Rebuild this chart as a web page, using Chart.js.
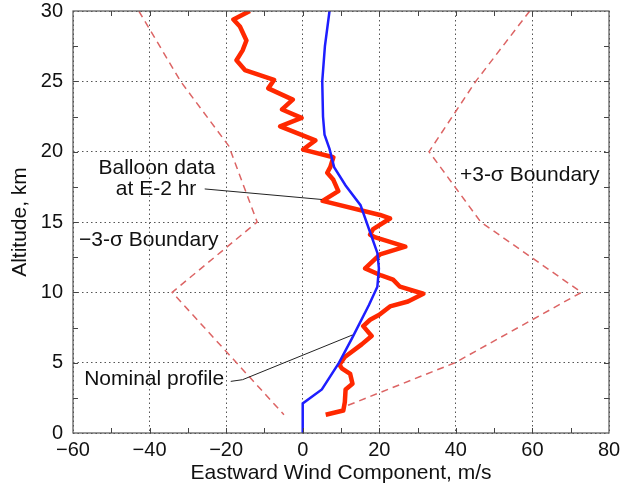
<!DOCTYPE html>
<html>
<head>
<meta charset="utf-8">
<script src="https://cdn.jsdelivr.net/npm/chart.js@4"></script>
<style>
  html, body { margin: 0; padding: 0; background: #fff; }
  #wrap { width: 621px; height: 486px; }
</style>
</head>
<body>
<div id="wrap"><canvas id="myChart" width="621" height="486"></canvas></div>
<script>
  // balloon data at E-2 hr (eastward wind m/s vs altitude km)
  const balloonWind = [6.0, 10.6, 11.0, 11.2, 13.0, 12.4, 10.2, 9.6, 11.0, 15.4, 18.0, 15.8, 17.6, 20.0, 22.8,
    27.5, 31.5, 25.4, 23.6, 20.5, 16.3, 20.2, 26.8, 19.0, 17.6, 18.4, 22.8, 20.2, 5.2, 9.3, 8.0, 6.4, 7.2,
    8.0, 0.1, 3.3, -5.9, -0.3, -5.4, -2.6, -9.0, -7.5, -15.1, -17.3, -15.7, -14.7, -16.4, -18.1, -13.8];
  const balloonAlt = [1.3, 1.6, 2.2, 3.1, 3.5, 4.2, 4.6, 4.85, 5.4, 6.3, 6.9, 7.6, 8.05, 8.4, 9.0,
    9.35, 9.9, 10.4, 10.9, 11.2, 11.7, 12.7, 13.25, 13.9, 14.1, 14.5, 15.25, 15.5, 16.5, 17.2, 18.0, 18.5, 18.9,
    19.6, 20.15, 20.8, 21.8, 22.4, 23.0, 23.7, 24.5, 25.1, 25.8, 26.5, 27.2, 27.9, 28.9, 29.4, 30.0];

  // nominal profile
  const nominalWind = [0, 0, 5.0, 9.5, 12.9, 17.3, 19.5, 19.9, 19.5, 17.3, 15.1, 11.2, 8.2, 7.0, 5.7, 5.3, 5.1, 5.8, 7.0];
  const nominalAlt  = [0, 2.1, 3.1, 5.0, 6.75, 9.1, 10.4, 11.7, 12.8, 14.5, 16.2, 17.6, 18.9, 20.2, 21.2, 22.5, 25.0, 27.5, 30.0];

  // 3-sigma boundaries
  const minusWind = [-42.8, -31.9, -19.3, -11.9, -34.1, -4.9];
  const minusAlt  = [30, 25, 20.4, 15, 10, 1.3];
  const plusWind  = [59.3, 45.2, 33.0, 46.5, 72.8, 39.8, 11.2];
  const plusAlt   = [30, 25, 20, 15, 10, 5, 1.9];

  const xTicks = [-60, -40, -20, 0, 20, 40, 60, 80];
  const yTicks = [0, 5, 10, 15, 20, 25, 30];

  function pts(xs, ys) {
    return xs.map(function(v, i) { return {x: v, y: ys[i]}; });
  }

  const FONT = '"Liberation Sans", Arial, Helvetica, sans-serif';

  // frame, inward ticks (major + minor) and callout labels
  const extras = {
    id: 'extras',
    afterDraw: function(chart) {
      const c = chart.ctx;
      const a = chart.chartArea;
      const sx = chart.scales.x, sy = chart.scales.y;
      c.save();
      c.strokeStyle = '#555';
      c.lineWidth = 1.2;
      c.strokeRect(a.left, a.top, a.right - a.left, a.bottom - a.top);

      c.lineWidth = 1;
      c.strokeStyle = '#444';
      c.beginPath();
      for (let v = -50; v < 80; v += 10) {
        const px = Math.round(sx.getPixelForValue(v)) + 0.5;
        c.moveTo(px, a.bottom); c.lineTo(px, a.bottom - 5);
        c.moveTo(px, a.top); c.lineTo(px, a.top + 5);
      }
      for (let v = 2.5; v < 30; v += 2.5) {
        const py = Math.round(sy.getPixelForValue(v)) + 0.5;
        c.moveTo(a.left, py); c.lineTo(a.left + 5, py);
        c.moveTo(a.right, py); c.lineTo(a.right - 5, py);
      }
      c.stroke();

      // leader lines
      c.strokeStyle = '#222';
      c.lineWidth = 1;
      c.beginPath();
      c.moveTo(sx.getPixelForValue(-25.6), sy.getPixelForValue(17.35));
      c.lineTo(sx.getPixelForValue(5.0), sy.getPixelForValue(16.6));
      c.moveTo(sx.getPixelForValue(-18.8), sy.getPixelForValue(3.67));
      c.lineTo(sx.getPixelForValue(-15.7), sy.getPixelForValue(3.79));
      c.lineTo(sx.getPixelForValue(13.0), sy.getPixelForValue(6.97));
      c.stroke();

      c.fillStyle = '#111';
      c.font = '21px ' + FONT;
      c.textAlign = 'center';
      c.textBaseline = 'middle';
      const label = function(t, x, y) {
        c.fillText(t, sx.getPixelForValue(x), sy.getPixelForValue(y));
      };
      label('Balloon data', -38.1, 18.84);
      label('at E-2 hr', -38.3, 17.35);
      label('\u22123-\u03c3 Boundary', -40.2, 13.73);
      label('+3-\u03c3 Boundary', 59.3, 18.35);
      label('Nominal profile', -38.8, 3.79);
      c.restore();
    }
  };

  const ctx = document.getElementById('myChart').getContext('2d');

  const chart = new Chart(ctx, {
    type: 'scatter',
    data: {
      datasets: [{
        label: 'Nominal profile',
        data: pts(nominalWind, nominalAlt),
        showLine: true,
        borderColor: '#1e1eff',
        borderWidth: 2.5,
        pointRadius: 0,
        order: 0
      },
      {
        label: 'Balloon data at E-2 hr',
        data: pts(balloonWind, balloonAlt),
        showLine: true,
        borderColor: '#ff2800',
        borderWidth: 4.5,
        borderJoinStyle: 'round',
        pointRadius: 0,
        order: 1
      },
      {
        label: '-3-sigma Boundary',
        data: pts(minusWind, minusAlt),
        showLine: true,
        borderColor: '#dc6464',
        borderWidth: 1.5,
        borderDash: [7, 5],
        pointRadius: 0,
        order: 2
      },
      {
        label: '+3-sigma Boundary',
        data: pts(plusWind, plusAlt),
        showLine: true,
        borderColor: '#dc6464',
        borderWidth: 1.5,
        borderDash: [7, 5],
        pointRadius: 0,
        order: 2
      }]
    },
    options: {
      responsive: false,
      animation: false,
      events: [],
      layout: { padding: { top: 11, right: 12, left: 0, bottom: 0 } },
      plugins: {
        legend: { display: false },
        tooltip: { enabled: false }
      },
      scales: {
        x: {
          type: 'linear',
          min: -60,
          max: 80,
          afterBuildTicks: function(s) { s.ticks = xTicks.map(function(v) { return {value: v}; }); },
          afterFit: function(s) { s.height = 53; s.paddingLeft = 0; s.paddingRight = 0; },
          ticks: {
            padding: 5,
            color: '#111',
            font: { family: FONT, size: 20 },
            maxRotation: 0,
            callback: function(v) { return v < 0 ? '\u2212' + Math.abs(v) : String(v); }
          },
          grid: { color: '#555', lineWidth: 1, drawTicks: false },
          border: { display: false, dash: [1.5, 3] },
          title: {
            display: true,
            text: 'Eastward Wind Component, m/s',
            color: '#111',
            font: { family: FONT, size: 21 },
            padding: { top: 0, bottom: 0 }
          }
        },
        y: {
          type: 'linear',
          min: 0,
          max: 30,
          afterBuildTicks: function(s) { s.ticks = yTicks.map(function(v) { return {value: v}; }); },
          afterFit: function(s) { s.width = 73; s.paddingTop = 0; s.paddingBottom = 0; },
          ticks: {
            padding: 10,
            color: '#111',
            font: { family: FONT, size: 20 }
          },
          grid: { color: '#555', lineWidth: 1, drawTicks: false },
          border: { display: false, dash: [1.5, 3] },
          title: {
            display: true,
            text: 'Altitude, km',
            color: '#111',
            font: { family: FONT, size: 21 },
            padding: { top: 8, bottom: 0 }
          }
        }
      }
    },
    plugins: [extras]
  });
</script>
</body>
</html>
